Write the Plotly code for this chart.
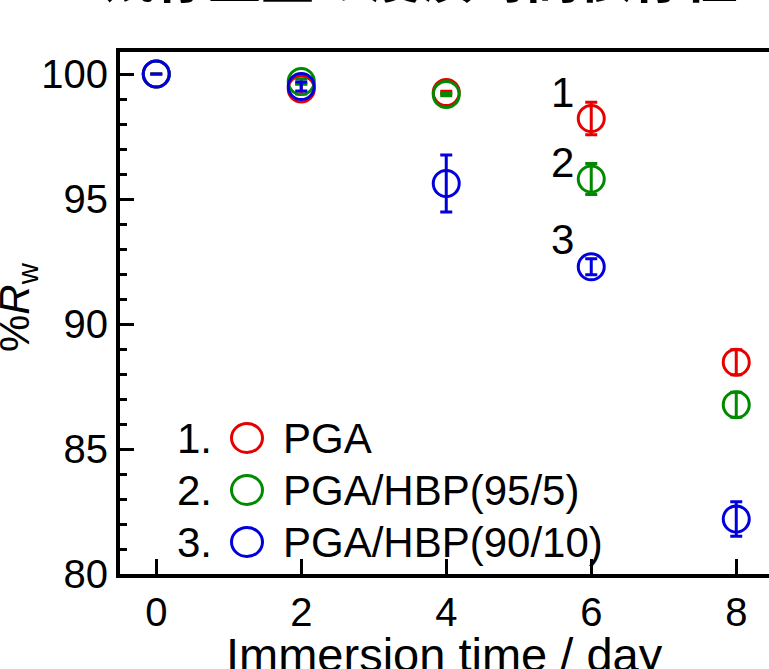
import plotly.graph_objects as go

# Weight retention (%Rw) versus immersion time
days = [0, 2, 4, 6, 8]

pga = [100.0, 99.4, 99.26, 98.22, 88.47]
pga_err = [0.0, 0.2, 0.05, 0.65, 0.5]

hbp95 = [100.0, 99.7, 99.18, 95.8, 86.77]
hbp95_err = [0.0, 0.1, 0.05, 0.62, 0.5]

hbp90 = [100.0, 99.5, 95.62, 92.29, 82.2]
hbp90_err = [0.0, 0.18, 1.14, 0.32, 0.69]

series_names = ["PGA", "PGA/HBP(95/5)", "PGA/HBP(90/10)"]
series_labels = ["1", "2", "3"]
colors = ["#e60000", "#008a00", "#0000dc"]

x_ticks = [0, 2, 4, 6, 8]
y_ticks = [80, 85, 90, 95, 100]

FONT = "Liberation Sans, Arial, sans-serif"

fig = go.Figure()

for vals, errs, color, name in zip(
    [pga, hbp95, hbp90], [pga_err, hbp95_err, hbp90_err], colors, series_names
):
    fig.add_trace(
        go.Scatter(
            x=days,
            y=vals,
            mode="markers",
            name=name,
            showlegend=False,
            marker=dict(
                symbol="circle-open",
                size=26,
                color=color,
                line=dict(width=3, color=color),
            ),
            error_y=dict(
                type="data",
                array=errs,
                visible=True,
                color=color,
                thickness=3,
                width=6,
            ),
        )
    )

# Plot-area geometry in pixels (used to place the hand-built legend and labels)
W, H = 769, 669
L, R, T, B = 120, 0, 52, 95
PW, PH = W - L - R, H - T - B


def px_x(px):
    return (px - L) / PW


def px_y(py):
    return (H - B - py) / PH


annotations = []
shapes = []

# Numbered legend: "n." + open circle + series name
legend_rows = [438, 490, 542]
for i, (name, color, row) in enumerate(zip(series_names, colors, legend_rows)):
    annotations.append(
        dict(
            text=f"{series_labels[i]}.",
            xref="paper", yref="paper",
            x=px_x(214), y=px_y(row),
            xanchor="right", yanchor="middle",
            showarrow=False,
            font=dict(family=FONT, size=42, color="black"),
        )
    )
    shapes.append(
        dict(
            type="circle",
            xref="paper", yref="paper",
            xsizemode="pixel", ysizemode="pixel",
            xanchor=px_x(247), yanchor=px_y(row),
            x0=-15.5, x1=15.5, y0=-14.5, y1=14.5,
            line=dict(color=color, width=3),
        )
    )
    annotations.append(
        dict(
            text=name,
            xref="paper", yref="paper",
            x=px_x(281), y=px_y(row),
            xanchor="left", yanchor="middle",
            showarrow=False,
            font=dict(family=FONT, size=42, color="black"),
        )
    )

# Curve numbers beside the day-6 points
for lab, yv in zip(series_labels, [99.28, 96.48, 93.4]):
    annotations.append(
        dict(
            text=lab,
            x=5.6, y=yv,
            xref="x", yref="y",
            showarrow=False,
            xanchor="center", yanchor="middle",
            font=dict(family=FONT, size=42, color="black"),
        )
    )

# Title
annotations.append(
    dict(
        text="<b>残存重量の浸漬時間依存性</b>",
        xref="paper", yref="paper",
        x=px_x(420), y=1,
        xanchor="center", yanchor="bottom",
        yshift=37,
        showarrow=False,
        font=dict(family="Noto Sans CJK JP", size=53, color="black"),
    )
)

# Axis titles
annotations.append(
    dict(
        text="Immersion time / day",
        xref="paper", yref="paper",
        x=px_x(444), y=px_y(654),
        xanchor="center", yanchor="middle",
        showarrow=False,
        font=dict(family=FONT, size=47, color="black"),
    )
)
annotations.append(
    dict(
        text="%<i>R</i><sub>w</sub>",
        xref="paper", yref="paper",
        x=px_x(17), y=px_y(307),
        xanchor="center", yanchor="middle",
        textangle=-90,
        showarrow=False,
        font=dict(family=FONT, size=42, color="black"),
    )
)

fig.update_layout(
    width=W,
    height=H,
    margin=dict(l=L, r=R, t=T, b=B, pad=0),
    paper_bgcolor="white",
    plot_bgcolor="white",
    showlegend=False,
    annotations=annotations,
    shapes=shapes,
    font=dict(family=FONT, color="black"),
)

fig.update_xaxes(
    range=[-0.5, -0.5 + PW / 72.5],
    tickvals=x_ticks,
    ticks="inside",
    ticklen=15,
    tickwidth=3,
    tickcolor="black",
    showline=True,
    linewidth=4,
    linecolor="black",
    mirror=True,
    showgrid=False,
    zeroline=False,
    tickfont=dict(family=FONT, size=40, color="black"),
)

fig.update_yaxes(
    range=[80, 80 + PH / 25.0],
    tickvals=y_ticks,
    ticks="inside",
    ticklen=14,
    tickwidth=3,
    tickcolor="black",
    minor=dict(dtick=1, ticks="inside", ticklen=7, tickwidth=3, tickcolor="black"),
    showline=True,
    linewidth=4,
    linecolor="black",
    mirror=False,
    showgrid=False,
    zeroline=False,
    ticklabelstandoff=0,
    tickfont=dict(family=FONT, size=40, color="black"),
)

fig.write_html("out.html")
